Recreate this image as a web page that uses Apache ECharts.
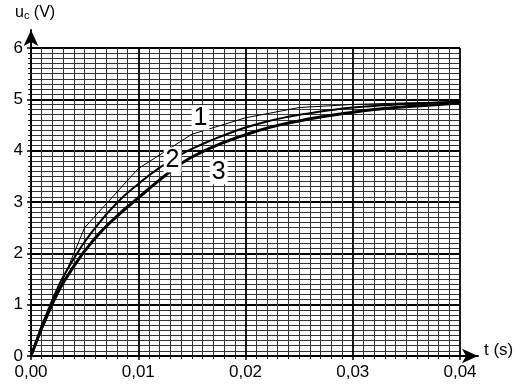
<!DOCTYPE html>
<html>
<head>
<meta charset="utf-8">
<script src="https://cdn.jsdelivr.net/npm/echarts@6/dist/echarts.min.js"></script>
<style>
  html, body { margin: 0; padding: 0; background: #fff; }
  #chart { width: 531px; height: 389px; }
</style>
</head>
<body>
<div id="chart"></div>
<script>
// time samples (s) and voltages (V)
const t1 = [0, 0.005, 0.010, 0.015, 0.020, 0.025, 0.030, 0.035, 0.040]
const u1 = [0, 2.50, 3.65, 4.32, 4.64, 4.84, 4.90, 4.93, 4.95]

const t23 = [0, 0.002, 0.004, 0.006, 0.008, 0.010, 0.012, 0.014, 0.016, 0.018, 0.020,
  0.022, 0.024, 0.026, 0.028, 0.030, 0.032, 0.034, 0.036, 0.038, 0.040]
const u2 = [0, 1.10, 1.90, 2.50, 2.98, 3.35, 3.67, 3.93, 4.13, 4.30, 4.45,
  4.57, 4.66, 4.73, 4.79, 4.84, 4.87, 4.90, 4.92, 4.94, 4.96]
const u3 = [0, 1.02, 1.75, 2.30, 2.72, 3.08, 3.43, 3.75, 3.98, 4.16, 4.31,
  4.44, 4.54, 4.62, 4.69, 4.75, 4.80, 4.84, 4.87, 4.90, 4.93]

const curveLabels = [
  { name: '1', coord: [0.0158, 4.64] },
  { name: '2', coord: [0.0132, 3.82] },
  { name: '3', coord: [0.0175, 3.59] }
]

const pairs = (xs, ys) => xs.map((x, i) => [x, ys[i]])
const font = 'Liberation Sans, Arial, sans-serif'

const labelPoint = (l) => ({
  coord: l.coord, symbol: 'circle', symbolSize: 1,
  itemStyle: { color: 'rgba(0,0,0,0)' },
  label: {
    show: true, position: 'inside', formatter: l.name, color: '#000',
    fontSize: 25, fontFamily: font, backgroundColor: '#fff', padding: [0, 2, 0, 2]
  }
})

const chart = echarts.init(document.getElementById('chart'))
chart.setOption({
  animation: false,
  backgroundColor: '#fff',
  grid: [
    { left: 31, right: 71, top: 48, bottom: 33 },
    { left: 31, right: 53, top: 30, bottom: 33 }
  ],
  xAxis: [
    {
      type: 'value', min: 0, max: 0.04, interval: 0.01, gridIndex: 0,
      axisLine: { show: true, lineStyle: { color: '#000', width: 2 } },
      axisTick: { show: true, length: 4, lineStyle: { color: '#000', width: 1.5 } },
      minorTick: { show: true, splitNumber: 10, length: 3, lineStyle: { color: '#222' } },
      axisLabel: { color: '#000', fontSize: 17, fontFamily: font, margin: 8,
        formatter: v => v.toFixed(2).replace('.', ',') },
      splitLine: { show: true, lineStyle: { color: '#000', width: 1.8 } },
      minorSplitLine: { show: true, lineStyle: { color: '#333', width: 1 } }
    },
    {
      type: 'value', min: 0, max: 1, gridIndex: 1,
      axisLine: { show: true, symbol: ['none', 'arrow'], symbolSize: [11, 16], lineStyle: { color: '#000', width: 2 } },
      axisTick: { show: false }, axisLabel: { show: false }, splitLine: { show: false }
    }
  ],
  yAxis: [
    {
      type: 'value', min: 0, max: 6, interval: 1, gridIndex: 0,
      axisLine: { show: true, lineStyle: { color: '#000', width: 2 } },
      axisTick: { show: true, length: 4, lineStyle: { color: '#000', width: 1.5 } },
      minorTick: { show: true, splitNumber: 10, length: 3, lineStyle: { color: '#222' } },
      axisLabel: { color: '#000', fontSize: 17, fontFamily: font, margin: 8 },
      splitLine: { show: true, lineStyle: { color: '#000', width: 1.8 } },
      minorSplitLine: { show: true, lineStyle: { color: '#333', width: 1 } }
    },
    {
      type: 'value', min: 0, max: 1, gridIndex: 1,
      axisLine: { show: true, symbol: ['none', 'arrow'], symbolSize: [11, 16], lineStyle: { color: '#000', width: 2 } },
      axisTick: { show: false }, axisLabel: { show: false }, splitLine: { show: false }
    }
  ],
  graphic: [
    { type: 'text', left: 15, top: 5, style: {
      text: '{u|u}{c|c}{u| (V)}', fill: '#000',
      rich: { u: { fontSize: 16, fontFamily: font }, c: { fontSize: 11, fontFamily: font, verticalAlign: 'bottom', padding: [6, 0, 0, 0] } }
    } },
    { type: 'text', left: 484, top: 342, style: { text: 't (s)', fill: '#000', fontSize: 17, fontFamily: font } }
  ],
  series: [
    {
      name: '1', type: 'line', data: pairs(t1, u1), showSymbol: false, smooth: false,
      lineStyle: { color: '#000', width: 1 }, z: 5,
      markPoint: { data: [labelPoint(curveLabels[0])], z: 10 }
    },
    {
      name: '2', type: 'line', data: pairs(t23, u2), showSymbol: false, smooth: true,
      lineStyle: { color: '#000', width: 2 }, z: 5,
      markPoint: { data: [labelPoint(curveLabels[1])], z: 10 }
    },
    {
      name: '3', type: 'line', data: pairs(t23, u3), showSymbol: false, smooth: true,
      lineStyle: { color: '#000', width: 3 }, z: 5,
      markPoint: { data: [labelPoint(curveLabels[2])], z: 10 }
    }
  ]
})
</script>
</body>
</html>
